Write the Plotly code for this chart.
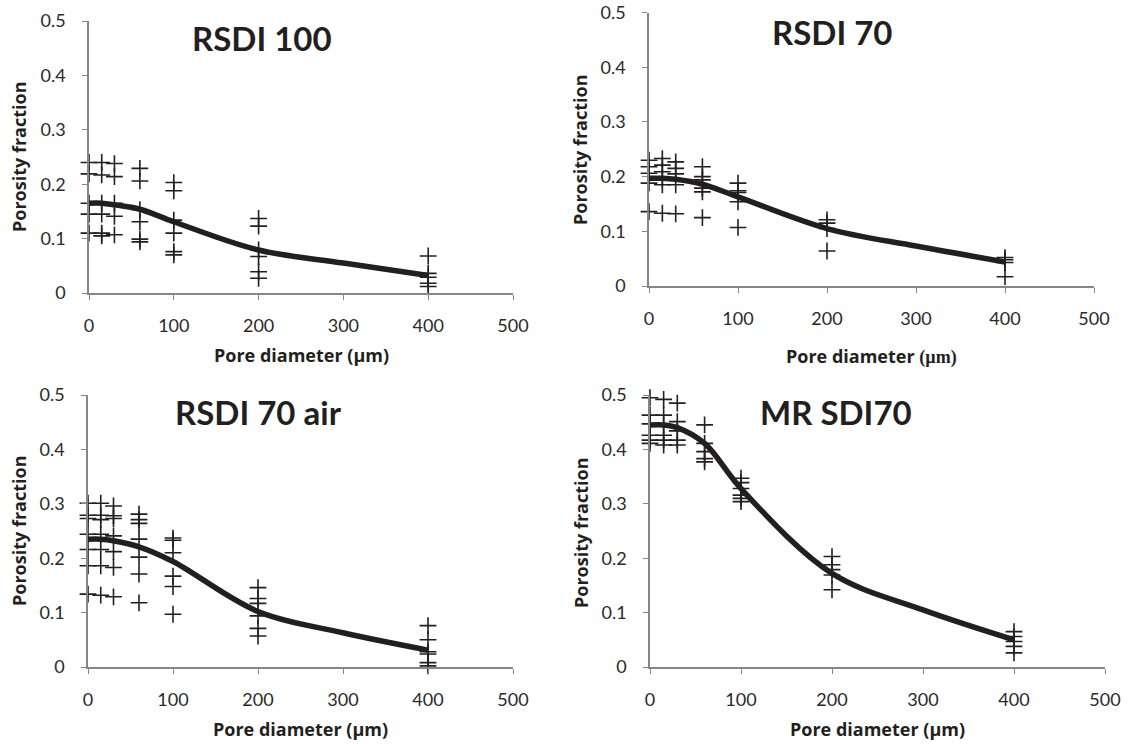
import plotly.graph_objects as go

# pore diameters (um) at which porosity fraction was measured
diam = [0, 15, 30, 60, 100, 200, 400]

# measured porosity fractions, one list per diameter
rsdi100_pts = [
    [0.240, 0.219, 0.165, 0.145, 0.110],
    [0.240, 0.217, 0.165, 0.145, 0.110, 0.105],
    [0.238, 0.214, 0.165, 0.141, 0.107],
    [0.229, 0.206, 0.153, 0.131, 0.099, 0.094],
    [0.203, 0.188, 0.134, 0.110, 0.076, 0.070],
    [0.137, 0.123, 0.079, 0.067, 0.039, 0.027],
    [0.068, 0.036, 0.029, 0.018, 0.012],
]
rsdi70_pts = [
    [0.230, 0.218, 0.206, 0.188, 0.136],
    [0.233, 0.221, 0.209, 0.197, 0.185, 0.133],
    [0.227, 0.215, 0.205, 0.185, 0.132],
    [0.218, 0.200, 0.194, 0.179, 0.172, 0.125],
    [0.188, 0.174, 0.171, 0.154, 0.107],
    [0.121, 0.115, 0.105, 0.064],
    [0.052, 0.048, 0.043, 0.017],
]
rsdi70air_pts = [
    [0.301, 0.279, 0.273, 0.244, 0.216, 0.186, 0.134],
    [0.301, 0.279, 0.271, 0.244, 0.216, 0.186, 0.132],
    [0.296, 0.278, 0.273, 0.241, 0.212, 0.183, 0.129],
    [0.281, 0.271, 0.264, 0.235, 0.202, 0.171, 0.118],
    [0.237, 0.233, 0.210, 0.167, 0.148, 0.097],
    [0.146, 0.126, 0.117, 0.094, 0.071, 0.057],
    [0.076, 0.050, 0.028, 0.024, 0.008, 0.002],
]
mrsdi70_pts = [
    [0.495, 0.463, 0.447, 0.426, 0.417, 0.411],
    [0.492, 0.463, 0.445, 0.426, 0.417, 0.408],
    [0.485, 0.451, 0.434, 0.417, 0.408],
    [0.445, 0.411, 0.396, 0.383, 0.377],
    [0.347, 0.339, 0.328, 0.316, 0.310, 0.304],
    [0.203, 0.188, 0.179, 0.169, 0.142],
    [0.065, 0.056, 0.047, 0.038, 0.026],
]

# smoothed fitted curves
fit_x = [0, 15, 30, 60, 100, 200, 300, 400]
rsdi100_fit = [0.165, 0.165, 0.162, 0.154, 0.131, 0.079, 0.055, 0.032]
rsdi70_fit = [0.197, 0.197, 0.195, 0.186, 0.163, 0.105, 0.073, 0.044]
rsdi70air_fit = [0.235, 0.235, 0.232, 0.221, 0.194, 0.102, 0.063, 0.031]
mrsdi70_fit = [0.445, 0.445, 0.440, 0.411, 0.328, 0.172, 0.105, 0.050]

titles = ["RSDI 100", "RSDI 70", "RSDI 70 air", "MR SDI70"]
xtitles = [
    "<b>Pore diameter (µm)</b>",
    "<b>Pore diameter <span style=\"font-family:'Liberation Serif'\">(µm)</span></b>",
    "<b>Pore diameter (µm)</b>",
    "<b>Pore diameter (µm)</b>",
]

INK = "#231f20"
AXC = "#868686"
FONT = "Lato, 'Open Sans', sans-serif"
TFONT = "'Open Sans', Lato, sans-serif"

W, H = 1128, 744


def px_x(p):
    return p / W


def px_y(p):
    return 1 - p / H


# plot areas in pixels: (x0, x1, y_top(0.5), y_bottom(0))
areas = [
    (89, 513, 21, 293),
    (649, 1094, 12.5, 286),
    (88, 513, 395, 667),
    (650, 1105, 395, 667),
]
# title centres, x-title centres, y-title centres (pixels)
title_pos = [(262, 38), (832, 32), (258, 412), (836, 412)]
xtitle_pos = [(301, 355), (871, 356), (300, 729), (877, 729)]
ytitle_pos = [(19, 157), (580, 150), (19, 531), (581, 533)]

panels = [
    (rsdi100_pts, rsdi100_fit),
    (rsdi70_pts, rsdi70_fit),
    (rsdi70air_pts, rsdi70air_fit),
    (mrsdi70_pts, mrsdi70_fit),
]

fig = go.Figure()
layout = dict(
    width=W, height=H,
    margin=dict(l=0, r=0, t=0, b=0, autoexpand=False),
    paper_bgcolor="white", plot_bgcolor="white",
    showlegend=False,
    font=dict(family=FONT, color=INK),
)
annotations = []

for i, (pts, fit) in enumerate(panels):
    n = "" if i == 0 else str(i + 1)
    xs, ys = [], []
    for d, vals in zip(diam, pts):
        xs += [d] * len(vals)
        ys += vals
    fig.add_trace(go.Scatter(
        x=xs, y=ys, mode="markers", xaxis="x" + n, yaxis="y" + n,
        marker=dict(symbol="cross-thin", size=12,
                    line=dict(width=1.6, color=INK)),
        cliponaxis=False,
    ))
    fig.add_trace(go.Scatter(
        x=fit_x, y=fit, mode="lines", xaxis="x" + n, yaxis="y" + n,
        line=dict(color=INK, width=5.5, shape="spline", smoothing=1.0),
        cliponaxis=False,
    ))

    x0, x1, yt, yb = areas[i]
    common = dict(showgrid=False, zeroline=False, showline=True,
                  automargin=False, ticklabeloverflow="allow",
                  linecolor=AXC, linewidth=1.5, ticks="outside",
                  ticklen=5, tickwidth=1.2, tickcolor=AXC,
                  tickfont=dict(family=FONT, size=18, color="#2a2a2a"))
    layout["xaxis" + n] = dict(
        domain=[px_x(x0), px_x(x1)], range=[0, 500], dtick=100,
        anchor="y" + n, ticklabelstandoff=11, **common)
    layout["yaxis" + n] = dict(
        domain=[px_y(yb), px_y(yt)], range=[0, 0.5], dtick=0.1,
        anchor="x" + n, ticklabelstandoff=13, **common)

    tx, ty = title_pos[i]
    annotations.append(dict(
        text="<b>" + titles[i] + "</b>", x=px_x(tx), y=px_y(ty),
        xref="paper", yref="paper", xanchor="center", yanchor="middle",
        showarrow=False, font=dict(family=FONT, size=33, color=INK)))
    xx, xy = xtitle_pos[i]
    annotations.append(dict(
        text=xtitles[i], x=px_x(xx), y=px_y(xy),
        xref="paper", yref="paper", xanchor="center", yanchor="middle",
        showarrow=False, font=dict(family=TFONT, size=18, color=INK)))
    yx, yy = ytitle_pos[i]
    annotations.append(dict(
        text="<b>Porosity fraction</b>", x=px_x(yx), y=px_y(yy),
        xref="paper", yref="paper", xanchor="center", yanchor="middle",
        showarrow=False, textangle=-90,
        font=dict(family=TFONT, size=18, color=INK)))

layout["annotations"] = annotations
fig.update_layout(**layout)
# drop the default page margin so the figure sits at the window's corner
fig.write_html("out.html", config={"displayModeBar": False},
               post_script="document.body.style.margin = '0';")
